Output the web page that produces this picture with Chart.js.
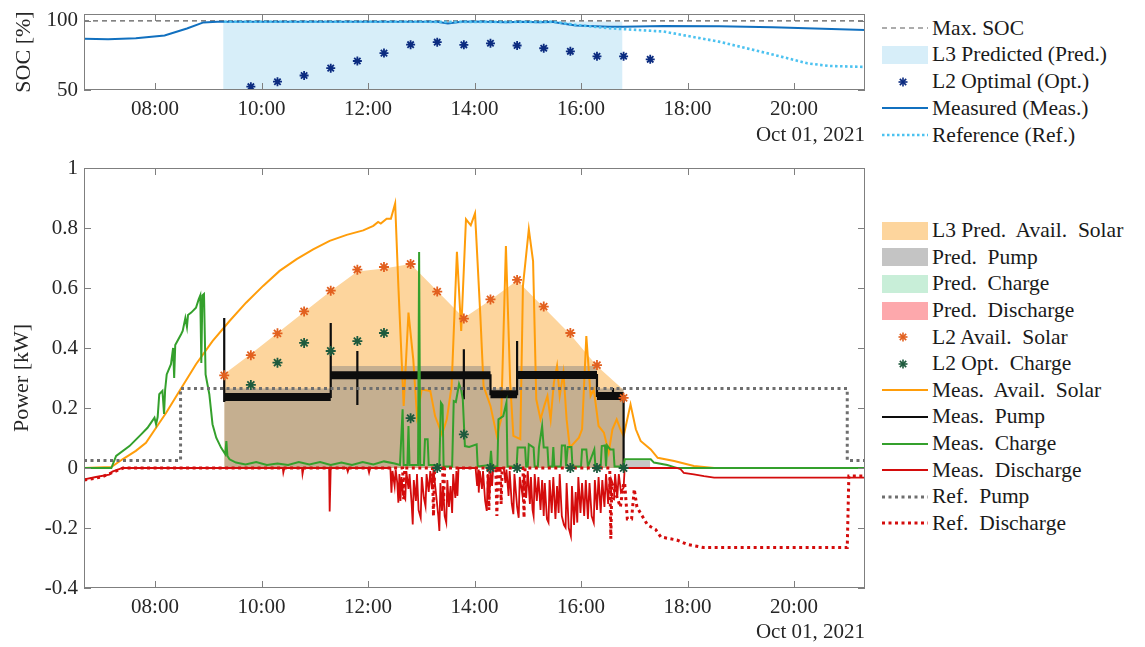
<!DOCTYPE html>
<html>
<head>
<meta charset="utf-8">
<script src="https://cdn.jsdelivr.net/npm/chart.js@4.4.1/dist/chart.umd.min.js"></script>
<style>
  body { margin: 0; background: #fff; width: 1145px; height: 647px; overflow: hidden; position: relative; font-family: 'Liberation Serif', serif; }
  canvas { position: absolute; left: 0; }
  #socChart { top: 0; }
  #powerChart { top: 150px; }
  .leg { position: absolute; left: 882px; top: 0; font-size: 21.5px; color: #1a1a1a; }
  .row { position: absolute; left: 0; height: 26px; display: flex; align-items: center; white-space: pre; }
  .row svg { margin-right: 4px; }
</style>
</head>
<body>
<canvas id="socChart" width="880" height="150"></canvas>
<canvas id="powerChart" width="880" height="497"></canvas>
<div class="leg" id="socLegend"></div>
<div class="leg" id="powerLegend"></div>
<script>
// time in decimal hours, Oct 01, 2021
const xMin = 6 + 40 / 60, xMax = 21 + 20 / 60;
const timeTicks = [8, 10, 12, 14, 16, 18, 20];
const socTicks = [50, 100];
const powerTicks = [-0.4, -0.2, 0, 0.2, 0.4, 0.6, 0.8, 1];
const dateLabel = 'Oct 01, 2021';

// ---- SOC panel ----
const maxSocT = [xMin, xMax];
const maxSocV = [100, 100];
const predSocT = [9.28, 16.78];
const predSocV = [99.5, 99.5];
const optSocT = [9.8, 10.3, 10.8, 11.3, 11.8, 12.3, 12.8, 13.3, 13.8, 14.3, 14.8, 15.3, 15.8, 16.3, 16.8, 17.3];
const optSocV = [52.4, 56, 60.5, 65.8, 71, 76.7, 82.8, 84.6, 82.7, 83.8, 82.2, 80.2, 78, 74.4, 74.4, 72.2];
const measSocT = [6.67, 7.12, 7.64, 8.18, 8.6, 8.91, 9.17, 13.3, 13.5, 13.75, 14.0, 14.6, 14.9, 15.2, 15.45, 15.68, 15.9, 16.52, 16.78, 17.55, 18.6, 19.6, 21.34];
const measSocV = [87, 86.8, 87.5, 89.5, 94.5, 98.9, 99.4, 99.4, 98.2, 99.4, 99.5, 99.0, 99.4, 99.0, 99.3, 98, 96.7, 95.8, 95.7, 96.3, 96.2, 95.4, 93.5];
const refSocT = [9.3, 15.5, 15.89, 16.51, 17.55, 18.59, 19.63, 20.25, 20.66, 21.34];
const refSocV = [99.4, 99.3, 97.1, 94.7, 92.3, 85, 75.4, 69.3, 67.4, 66.7];

// ---- power panel ----
const l2Times = [9.3, 9.8, 10.3, 10.8, 11.3, 11.8, 12.3, 12.8, 13.3, 13.8, 14.3, 14.8, 15.3, 15.8, 16.3, 16.8];
const l2AvailSolar = [0.309, 0.376, 0.449, 0.522, 0.591, 0.661, 0.670, 0.680, 0.588, 0.498, 0.562, 0.627, 0.538, 0.450, 0.343, 0.234];
const l2OptCharge = [null, 0.277, 0.351, 0.417, 0.390, 0.423, 0.450, 0.166, 0, 0.112, 0, 0, null, 0, 0, 0];
const l3SolarV = [0.313, 0.38, 0.45, 0.52, 0.59, 0.655, 0.665, 0.68, 0.59, 0.5, 0.56, 0.625, 0.535, 0.445, 0.34, 0.26];
const predPumpT = [9.3, 11.3, 14.3, 14.8, 16.3, 16.8, 17.3];
const predPumpV = [0.265, 0.34, 0.265, 0.34, 0.265, 0.025, 0];
const predChargeT = [9.3, 16.8];
const predChargeV = [0, 0];
const predDischargeV = [0, 0];

const solarT = [6.67, 7.18, 7.39, 7.64, 7.83, 8.02, 8.21, 8.46, 8.77, 9.08, 9.40, 9.71, 10.03, 10.34, 10.66, 10.97, 11.28, 11.6, 11.91, 12.1, 12.19, 12.24, 12.35, 12.43, 12.51, 12.57, 12.67, 12.76, 12.85, 12.92, 13.01, 13.17, 13.26, 13.39, 13.48, 13.57, 13.67, 13.75, 13.84, 13.93, 14.01, 14.11, 14.17, 14.30, 14.42, 14.50, 14.59, 14.67, 14.73, 14.86, 14.91, 15.02, 15.10, 15.16, 15.24, 15.31, 15.37, 15.43, 15.49, 15.55, 15.60, 15.67, 15.73, 15.79, 15.96, 16.02, 16.10, 16.18, 16.24, 16.33, 16.43, 16.52, 16.59, 16.67, 16.74, 16.80, 16.93, 17.03, 17.12, 17.31, 17.44, 17.75, 18.12, 18.5, 21.34];
const solarV = [0, 0.003, 0.029, 0.057, 0.084, 0.134, 0.184, 0.257, 0.346, 0.423, 0.49, 0.551, 0.607, 0.657, 0.696, 0.729, 0.757, 0.777, 0.792, 0.807, 0.82, 0.815, 0.831, 0.831, 0.882, 0.607, 0.207, 0.518, 0.362, 0.173, 0.262, 0.257, 0.173, 0.112, 0.162, 0.273, 0.721, 0.457, 0.829, 0.809, 0.849, 0.507, 0.273, 0.207, 0.107, 0.162, 0.74, 0.284, 0.107, 0.096, 0.607, 0.796, 0.69, 0.229, 0.162, 0.207, 0.24, 0.162, 0.284, 0.34, 0.24, 0.318, 0.162, 0.068, 0.101, 0.129, 0.44, 0.24, 0.262, 0.14, 0.118, 0.051, 0.129, 0.162, 0.129, 0.107, 0.212, 0.129, 0.09, 0.062, 0.034, 0.023, 0.007, 0, 0];

// pump level (noisy band) and thin trace with switching spikes
const pumpLevelT = [9.3, 11.3, null, 11.3, 14.3, null, 14.3, 14.8, null, 14.8, 16.3, null, 16.3, 16.8];
const pumpLevelV = [0.237, 0.237, null, 0.309, 0.309, null, 0.246, 0.246, null, 0.31, 0.31, null, 0.24, 0.24];
const pumpT = [9.3, 9.3, 9.3, 11.3, 11.3, 11.3, 11.8, 11.8, 11.8, 11.8, 13.8, 13.8, 13.8, 13.8, 14.3, 14.3, 14.8, 14.8, 14.8, 16.3, 16.3, 16.6, 16.6, 16.6, 16.8, 16.8];
const pumpV = [0.22, 0.5, 0.237, 0.237, 0.483, 0.309, 0.309, 0.39, 0.21, 0.309, 0.309, 0.396, 0.229, 0.309, 0.309, 0.246, 0.246, 0.423, 0.31, 0.31, 0.24, 0.24, 0.267, 0.24, 0.24, 0];

const chargeT = [6.67, 7.18, 7.27, 7.52, 7.74, 7.86, 7.99, 8.02, 8.05, 8.08, 8.14, 8.17, 8.19, 8.22, 8.30, 8.34, 8.36, 8.38, 8.49, 8.52, 8.57, 8.60, 8.62, 8.68, 8.77, 8.82, 8.85, 8.87, 8.89, 8.92, 8.95, 9.02, 9.08, 9.15, 9.24, 9.32, 9.34, 9.36, 9.40, 9.52, 9.7, 9.9, 10.1, 10.3, 10.5, 10.7, 10.9, 11.1, 11.3, 11.5, 11.7, 11.9, 12.1, 12.3, 12.5, 12.6, 12.63, 12.65, 12.67, 12.74, 12.76, 12.78, 12.94, 12.96, 12.98, 13.05, 13.07, 13.12, 13.14, 13.34, 13.37, 13.4, 13.42, 13.58, 13.61, 13.65, 13.71, 13.75, 13.78, 13.82, 13.9, 14.04, 14.06, 14.29, 14.31, 14.33, 14.43, 14.45, 14.54, 14.6, 14.62, 14.79, 14.81, 14.95, 14.97, 15.0, 15.02, 15.11, 15.13, 15.19, 15.21, 15.27, 15.3, 15.37, 15.39, 15.46, 15.48, 15.5, 15.62, 15.64, 15.7, 15.72, 15.75, 15.82, 15.84, 16.0, 16.02, 16.1, 16.13, 16.25, 16.27, 16.37, 16.39, 16.45, 16.47, 16.49, 16.55, 16.61, 16.63, 16.8, 16.82, 17.31, 17.37, 17.62, 17.75, 17.8, 21.34];
const chargeV = [0, 0, 0.04, 0.073, 0.112, 0.134, 0.168, 0.146, 0.17, 0.246, 0.257, 0.18, 0.26, 0.312, 0.346, 0.40, 0.30, 0.41, 0.446, 0.457, 0.50, 0.47, 0.51, 0.518, 0.534, 0.562, 0.575, 0.35, 0.575, 0.58, 0.312, 0.246, 0.146, 0.101, 0.068, 0.046, 0.09, 0.04, 0.029, 0.018, 0.012, 0.02, 0.01, 0.015, 0.01, 0.02, 0.012, 0.02, 0.01, 0.018, 0.01, 0.02, 0.012, 0.022, 0.015, 0.01, 0.12, 0.196, 0.01, 0.01, 0.14, 0.01, 0.01, 0.72, 0.01, 0.01, 0.096, 0.096, 0.01, 0.01, 0.218, 0.21, 0.005, 0.005, 0.223, 0.22, 0.28, 0.26, 0.23, 0.073, 0.07, 0.079, 0.005, 0.01, 0.057, 0.005, 0.005, 0.162, 0.173, 0.218, 0.005, 0.005, 0.068, 0.068, 0.005, 0.005, 0.079, 0.068, 0.005, 0.005, 0.068, 0.14, 0.068, 0.068, 0.005, 0.005, 0.07, 0.005, 0.005, 0.075, 0.075, 0.005, 0.07, 0.07, 0.005, 0.005, 0.062, 0.062, 0.005, 0.062, 0.005, 0.005, 0.073, 0.075, 0.005, 0.075, 0.062, 0.062, 0.005, 0.005, 0.029, 0.029, 0.018, 0.01, 0.003, 0, 0];

const dischargeT = [6.67, 6.89, 7.14, 7.2, 7.39, 10.4, 10.41, 10.43, 10.76, 10.77, 10.79, 11.27, 11.28, 11.3, 11.6, 11.62, 11.64, 12.0, 12.02, 12.04,
    12.42, 12.44, 12.46, 12.5, 12.52, 12.55, 12.57, 12.59, 12.61, 12.63, 12.66, 12.70, 12.72, 12.76, 12.78, 12.82, 12.84, 12.86, 12.9, 12.92, 12.95, 12.99, 13.01, 13.05, 13.08, 13.1, 13.14, 13.17, 13.2, 13.23, 13.28, 13.32, 13.34, 13.36, 13.39, 13.41, 13.44, 13.47, 13.49, 13.52, 13.55, 13.58, 13.6, 13.64, 13.66, 13.68, 13.7,
    14.02, 14.05, 14.07, 14.08, 14.1, 14.14, 14.16, 14.2, 14.23, 14.25, 14.28, 14.3, 14.33, 14.35,
    14.55, 14.58, 14.6, 14.64, 14.66, 14.7, 14.73, 14.75, 14.8, 14.83, 14.85, 14.9, 14.93, 14.97, 15.0, 15.04, 15.06, 15.09, 15.11, 15.13, 15.17, 15.2, 15.24, 15.27, 15.3, 15.32, 15.36, 15.39, 15.41, 15.45, 15.48, 15.52, 15.55, 15.58, 15.6, 15.64, 15.68, 15.71, 15.73, 15.77, 15.81, 15.83, 15.87, 15.9, 15.93, 15.95, 15.99, 16.02, 16.06, 16.09, 16.13, 16.16, 16.2, 16.24, 16.26, 16.3, 16.33, 16.37, 16.4, 16.44, 16.47, 16.51, 16.54, 16.58, 16.62, 16.64, 16.68, 16.71, 16.75, 16.8, 16.82,
    17.8, 17.87, 17.93, 18.12, 18.31, 18.5, 21.34];
const dischargeV = [-0.038, -0.03, -0.022, -0.012, 0, 0, -0.015, 0, 0, -0.02, 0, 0, -0.145, 0, 0, -0.012, 0, 0, -0.015, 0,
    0, -0.082, -0.01, -0.06, -0.005, -0.05, -0.116, -0.02, -0.11, -0.03, -0.09, -0.104, -0.01, -0.07, -0.02, -0.12, -0.188, -0.04, -0.11, -0.02, -0.14, -0.166, -0.03, -0.1, -0.127, -0.02, -0.08, -0.01, -0.07, -0.005, -0.09, -0.16, -0.21, -0.05, -0.143, -0.06, -0.16, -0.182, -0.04, -0.13, -0.06, -0.15, -0.02, -0.1, -0.01, -0.093, 0,
    0, -0.06, -0.005, -0.082, -0.01, -0.07, -0.01, -0.11, -0.143, -0.02, -0.1, -0.01, -0.06, 0,
    0, -0.05, -0.005, -0.093, -0.01, -0.12, -0.154, -0.02, -0.13, -0.166, -0.03, -0.09, -0.02, -0.1, -0.01, -0.12, -0.03, -0.14, -0.16, -0.02, -0.11, -0.03, -0.14, -0.04, -0.16, -0.05, -0.17, -0.182, -0.04, -0.15, -0.03, -0.17, -0.06, -0.15, -0.02, -0.16, -0.19, -0.199, -0.05, -0.2, -0.227, -0.06, -0.19, -0.08, -0.182, -0.03, -0.15, -0.05, -0.16, -0.04, -0.17, -0.05, -0.16, -0.182, -0.04, -0.14, -0.03, -0.15, -0.04, -0.13, -0.02, -0.12, -0.03, -0.1, -0.104, -0.02, -0.1, -0.02, -0.08, -0.066, 0,
    0, -0.004, -0.016, -0.021, -0.027, -0.032, -0.032];

const refPumpT = [xMin, 8.48, 21.0, 21.34];
const refPumpV = [0.025, 0.265, 0.025, 0.025];
const refDischargeT = [6.67, 7.0, 7.2, 7.4, 12.65, 12.67, 12.69, 13.21, 13.23, 13.25, 13.4, 13.42, 13.44, 14.25, 14.27, 14.29, 14.4, 14.42, 14.44, 14.48, 14.5, 14.52, 14.91, 14.93, 14.95, 16.54, 16.56, 16.58, 16.74, 16.8, 16.82, 16.87, 16.95, 17.0, 17.05, 17.15, 17.25, 17.4, 17.5, 17.8, 18.0, 18.3, 21.0, 21.03, 21.34];
const refDischargeV = [-0.04, -0.03, -0.015, 0, 0, -0.104, 0, 0, -0.16, 0, 0, -0.11, 0, 0, -0.14, 0, 0, -0.16, 0, 0, -0.12, 0, 0, -0.166, 0, 0, -0.236, -0.05, -0.13, -0.05, -0.05, -0.17, -0.17, -0.07, -0.13, -0.16, -0.19, -0.205, -0.23, -0.24, -0.255, -0.265, -0.265, -0.027, -0.027];

const pts = (t, v) => t.map((x, i) => ({ x: x, y: v[i] }));
const serif = "'Liberation Serif', serif";
const textColor = '#262626';

// box around the plot with inward ticks, like the original axes
const boxTicks = {
    id: 'boxTicks',
    afterDraw(chart) {
        const { ctx, chartArea: a, scales } = chart;
        ctx.save();
        ctx.strokeStyle = '#7f7f7f';
        ctx.lineWidth = 1;
        ctx.strokeRect(a.left + 0.5, a.top + 0.5, a.right - a.left - 1, a.bottom - a.top - 1);
        ctx.beginPath();
        scales.x.ticks.forEach(t => {
            const px = Math.round(scales.x.getPixelForValue(t.value)) + 0.5;
            ctx.moveTo(px, a.bottom); ctx.lineTo(px, a.bottom - 7);
            ctx.moveTo(px, a.top); ctx.lineTo(px, a.top + 7);
        });
        scales.y.ticks.forEach(t => {
            const py = Math.round(scales.y.getPixelForValue(t.value)) + 0.5;
            ctx.moveTo(a.left, py); ctx.lineTo(a.left + 7, py);
            ctx.moveTo(a.right, py); ctx.lineTo(a.right - 7, py);
        });
        ctx.stroke();
        ctx.restore();
    }
};

function axes(o) {
    return {
        x: {
            type: 'linear', min: xMin, max: xMax,
            grid: { display: false, drawTicks: false }, border: { display: false },
            afterBuildTicks: s => { s.ticks = timeTicks.map(v => ({ value: v })); },
            afterFit: s => { s.height = o.xHeight; s.paddingLeft = 0; s.paddingRight = 0; },
            ticks: { autoSkip: false, maxRotation: 0, padding: 7, color: textColor, font: { family: serif, size: 21 },
                callback: v => String(v).padStart(2, '0') + ':00' },
            title: { display: true, text: dateLabel, align: 'end', color: textColor, font: { family: serif, size: 21 }, padding: { top: 0, bottom: 2 } }
        },
        y: {
            type: 'linear', min: o.yMin, max: o.yMax,
            grid: { display: false, drawTicks: false }, border: { display: false },
            afterBuildTicks: s => { s.ticks = o.yTicks.map(v => ({ value: v })); },
            afterFit: s => { s.width = 84; s.paddingTop = 0; s.paddingBottom = 0; },
            ticks: { padding: 6, color: textColor, font: { family: serif, size: 21 },
                callback: v => String(Math.round(v * 10) / 10) },
            title: { display: true, text: o.yTitle, color: textColor, font: { family: serif, size: 22 }, padding: { top: o.titlePad, bottom: 0 } }
        }
    };
}

const common = (o) => ({
    responsive: false, animation: false, devicePixelRatio: 1,
    layout: { padding: { left: 0, right: 15, top: o.top, bottom: 0 } },
    plugins: { legend: { display: false }, tooltip: { enabled: false } },
    elements: { point: { radius: 0 }, line: { tension: 0 } },
    scales: axes(o)
});

new Chart(document.getElementById('socChart'), {
    type: 'line',
    data: {
        datasets: [
            { data: pts(predSocT, predSocV), fill: 'start', backgroundColor: '#d7eef9', borderWidth: 0, order: 10 },
            { data: pts(maxSocT, maxSocV), borderColor: '#5a5a5a', borderWidth: 1.2, borderDash: [5, 4], order: 5 },
            { data: pts(measSocT, measSocV), borderColor: '#1170bf', borderWidth: 2, order: 4 },
            { data: pts(refSocT, refSocV), borderColor: '#4cc2f0', borderWidth: 2.6, borderDash: [2.5, 2.5], order: 3 },
            { data: pts(optSocT, optSocV), showLine: false, pointStyle: 'star', pointRadius: 4.5, pointBorderWidth: 1.8, pointBorderColor: '#0b2b80', order: 1 }
        ]
    },
    options: common({ top: 14, xHeight: 60, yMin: 50, yMax: 105, yTicks: socTicks, yTitle: 'SOC [%]', titlePad: 11 }),
    plugins: [boxTicks]
});

new Chart(document.getElementById('powerChart'), {
    type: 'line',
    data: {
        datasets: [
            { data: pts(l2Times, l3SolarV), fill: 'origin', backgroundColor: '#fdd59d', borderWidth: 0, order: 100 },
            { data: pts(predPumpT, predPumpV), stepped: true, fill: 'origin', backgroundColor: 'rgba(128,128,128,0.45)', borderWidth: 0, order: 99 },
            { data: pts(predChargeT, predChargeV), fill: 'origin', backgroundColor: 'rgba(150,225,180,0.5)', borderWidth: 0, order: 98 },
            { data: pts(predChargeT, predDischargeV), fill: 'origin', backgroundColor: 'rgba(255,130,140,0.5)', borderWidth: 0, order: 97 },
            { data: pts(solarT, solarV), borderColor: '#ff9d0a', borderWidth: 2, order: 20 },
            { data: pts(pumpLevelT, pumpLevelV), borderColor: '#0d0d0d', borderWidth: 8, spanGaps: false, borderCapStyle: 'butt', order: 19 },
            { data: pts(pumpT, pumpV), borderColor: '#0d0d0d', borderWidth: 2.2, order: 18 },
            { data: pts(chargeT, chargeV), borderColor: '#34a02c', borderWidth: 2, order: 17 },
            { data: pts(dischargeT, dischargeV), borderColor: '#d40c0c', borderWidth: 1.8, order: 16 },
            { data: pts(refPumpT, refPumpV), stepped: true, borderColor: '#6e6e6e', borderWidth: 3, borderDash: [3, 3.5], order: 15 },
            { data: pts(refDischargeT, refDischargeV), borderColor: '#d40c0c', borderWidth: 3, borderDash: [3, 3.5], order: 14 },
            { data: pts(l2Times, l2AvailSolar), showLine: false, pointStyle: 'star', pointRadius: 5, pointBorderWidth: 1.8, pointBorderColor: '#e2601f', order: 2 },
            { data: pts(l2Times, l2OptCharge), showLine: false, pointStyle: 'star', pointRadius: 5, pointBorderWidth: 1.8, pointBorderColor: '#1d5a3d', order: 1 }
        ]
    },
    options: common({ top: 18, xHeight: 59, yMin: -0.4, yMax: 1, yTicks: powerTicks, yTitle: 'Power [kW]', titlePad: 9 }),
    plugins: [boxTicks]
});

// legends
function symbol(e) {
    let s = '<svg width="46" height="22" viewBox="0 0 46 22">';
    if (e.kind === 'fill') s += `<rect x="0" y="2" width="46" height="18" fill="${e.color}"/>`;
    if (e.kind === 'line') s += `<line x1="0" y1="11" x2="46" y2="11" stroke="${e.color}" stroke-width="${e.w || 2}"${e.dash ? ` stroke-dasharray="${e.dash}"` : ''}/>`;
    if (e.kind === 'star') {
        for (let k = 0; k < 4; k++) {
            const a = k * Math.PI / 4, r = 4.5;
            s += `<line x1="${21 - r * Math.cos(a)}" y1="${11 - r * Math.sin(a)}" x2="${21 + r * Math.cos(a)}" y2="${11 + r * Math.sin(a)}" stroke="${e.color}" stroke-width="1.6"/>`;
        }
    }
    return s + '</svg>';
}
function legend(id, entries, y0, step) {
    document.getElementById(id).innerHTML = entries.map((e, i) =>
        `<div class="row" style="top:${y0 + i * step - 13}px">${symbol(e)}<span>${e.label}</span></div>`).join('');
}
legend('socLegend', [
    { label: 'Max. SOC', kind: 'line', color: '#5a5a5a', w: 1.2, dash: '5 4' },
    { label: 'L3 Predicted (Pred.)', kind: 'fill', color: '#d7eef9' },
    { label: 'L2 Optimal (Opt.)', kind: 'star', color: '#0b2b80' },
    { label: 'Measured (Meas.)', kind: 'line', color: '#1170bf' },
    { label: 'Reference (Ref.)', kind: 'line', color: '#4cc2f0', w: 2.6, dash: '2.5 2.5' }
], 28, 26.8);
legend('powerLegend', [
    { label: 'L3 Pred.  Avail.  Solar', kind: 'fill', color: '#fdd59d' },
    { label: 'Pred.  Pump', kind: 'fill', color: '#c4c4c4' },
    { label: 'Pred.  Charge', kind: 'fill', color: '#c8eed8' },
    { label: 'Pred.  Discharge', kind: 'fill', color: '#fda8ac' },
    { label: 'L2 Avail.  Solar', kind: 'star', color: '#e2601f' },
    { label: 'L2 Opt.  Charge', kind: 'star', color: '#1d5a3d' },
    { label: 'Meas.  Avail.  Solar', kind: 'line', color: '#ff9d0a' },
    { label: 'Meas.  Pump', kind: 'line', color: '#0d0d0d' },
    { label: 'Meas.  Charge', kind: 'line', color: '#34a02c' },
    { label: 'Meas.  Discharge', kind: 'line', color: '#d40c0c' },
    { label: 'Ref.  Pump', kind: 'line', color: '#6e6e6e', w: 3, dash: '3 3.5' },
    { label: 'Ref.  Discharge', kind: 'line', color: '#d40c0c', w: 3, dash: '3 3.5' }
], 230.7, 26.6);
</script>
</body>
</html>
